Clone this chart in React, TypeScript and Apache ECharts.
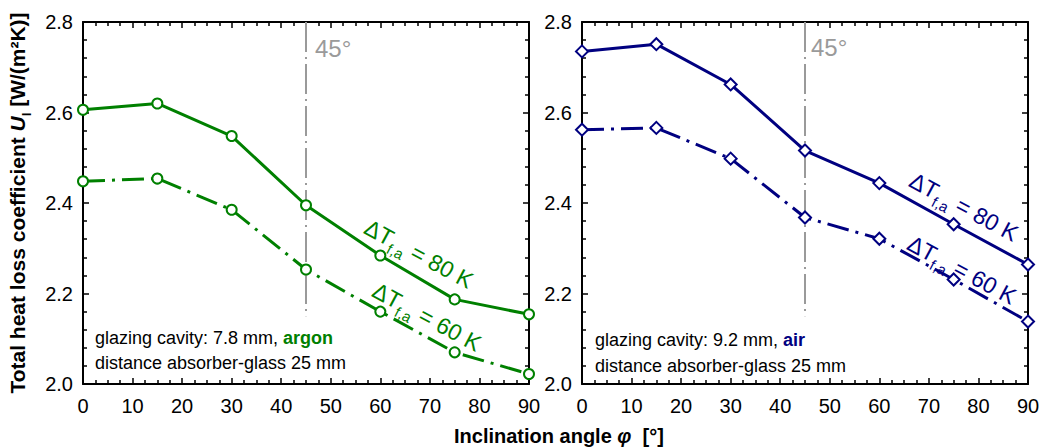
import React, { useEffect, useRef } from "react";
import * as echarts from "echarts";

// ---------- data ----------
const angles = [0, 15, 30, 45, 60, 75, 90];
const argon80 = [2.606, 2.62, 2.548, 2.395, 2.284, 2.187, 2.154];
const argon60 = [2.448, 2.454, 2.385, 2.253, 2.16, 2.07, 2.022];
const air80 = [2.735, 2.751, 2.662, 2.516, 2.444, 2.353, 2.264];
const air60 = [2.562, 2.566, 2.498, 2.368, 2.321, 2.231, 2.138];
const refAngle = 45;
const refRange = [2.8, 2.15];
const xTicks = { min: 0, max: 90, interval: 10 };
const yTicks = { min: 2.0, max: 2.8, interval: 0.2 };

const GREEN = "#008000";
const NAVY = "#000080";
const GRAY = "#9a9a9a";
const FONT = "'Liberation Sans', Arial, Helvetica, sans-serif";

const zip = (xs: number[], ys: number[]) => xs.map((x, i) => [x, ys[i]]);

const tickLine = { color: "#000", width: 1.5 };

function xAxes(gridIndex: number) {
  const base = {
    type: "value" as const,
    gridIndex,
    min: xTicks.min,
    max: xTicks.max,
    interval: xTicks.interval,
    axisLine: { show: true, onZero: false, lineStyle: { color: "#000", width: 2 } },
    axisTick: { show: true, inside: true, length: 6, lineStyle: tickLine },
    minorTick: { show: true, splitNumber: 4, length: 4, lineStyle: tickLine },
    splitLine: { show: false },
  };
  return [
    {
      ...base,
      position: "bottom",
      axisLabel: { show: true, color: "#000", fontSize: 20, margin: 12, fontFamily: FONT },
    },
    { ...base, position: "top", axisLabel: { show: false } },
  ];
}

function yAxes(gridIndex: number) {
  const base = {
    type: "value" as const,
    gridIndex,
    min: yTicks.min,
    max: yTicks.max,
    interval: yTicks.interval,
    axisLine: { show: true, onZero: false, lineStyle: { color: "#000", width: 2 } },
    axisTick: { show: true, inside: true, length: 6, lineStyle: tickLine },
    minorTick: { show: true, splitNumber: 5, length: 4, lineStyle: tickLine },
    splitLine: { show: false },
  };
  return [
    {
      ...base,
      position: "left",
      axisLabel: {
        show: true,
        color: "#000",
        fontSize: 20,
        margin: 10,
        fontFamily: FONT,
        formatter: (v: number) => v.toFixed(1),
      },
    },
    { ...base, position: "right", axisLabel: { show: false } },
  ];
}

function dataSeries(
  xi: number,
  yi: number,
  values: number[],
  color: string,
  symbol: string,
  size: number,
  dashed: boolean
) {
  return {
    type: "line",
    xAxisIndex: xi,
    yAxisIndex: yi,
    data: zip(angles, values),
    clip: false,
    z: 3,
    symbol,
    symbolSize: size,
    showSymbol: true,
    lineStyle: { color, width: 3, type: dashed ? [22, 7, 3, 7] : "solid" },
    itemStyle: { color: "#fff", borderColor: color, borderWidth: 2 },
  };
}

function refLine(xi: number, yi: number) {
  return {
    type: "line",
    xAxisIndex: xi,
    yAxisIndex: yi,
    data: refRange.map((v) => [refAngle, v]),
    symbol: "none",
    z: 1,
    lineStyle: { color: GRAY, width: 2, type: [30, 5, 2, 5] },
  };
}

function dtLabel(x: number, y: number, temp: number, color: string) {
  return {
    type: "text",
    x,
    y,
    rotation: -0.49,
    style: {
      text: `{a|ΔT}{s|f,a}{a| = ${temp} K}`,
      fill: color,
      fontFamily: FONT,
      align: "left",
      verticalAlign: "middle",
      textAlign: "left",
      textVerticalAlign: "middle",
      rich: {
        a: { fontSize: 23, fill: color, fontFamily: FONT, padding: [0, 0, 5, 0], verticalAlign: "top" },
        s: { fontSize: 15, fill: color, fontFamily: FONT, verticalAlign: "bottom" },
      },
    },
  };
}

function plainText(x: number, y: number, text: string, size: number, color: string, rich?: any) {
  return {
    type: "text",
    x,
    y,
    style: {
      text,
      fill: color,
      fontSize: size,
      fontFamily: FONT,
      align: "left",
      verticalAlign: "middle",
      textAlign: "left",
      textVerticalAlign: "middle",
      rich,
    },
  };
}

function infoBox(x: number, y1: number, y2: number, gas: string, color: string, cavity: string) {
  return [
    plainText(x, y1, `{n|glazing cavity: ${cavity} mm, }{g|${gas}}`, 18, "#000", {
      n: { fontSize: 18, fill: "#000", fontFamily: FONT },
      g: { fontSize: 18, fill: color, fontWeight: "bold", fontFamily: FONT },
    }),
    plainText(x, y2, "distance absorber-glass 25 mm", 18, "#000"),
  ];
}

export default function App() {
  const ref = useRef<HTMLDivElement>(null);
  useEffect(() => {
    const chart = echarts.init(ref.current!, null, { renderer: "svg" });
    const option: any = {
      animation: false,
      backgroundColor: "#fff",
      textStyle: { fontFamily: FONT },
      grid: [
        { left: 83, top: 22, width: 446, height: 362 },
        { left: 582, top: 22, width: 446, height: 362 },
      ],
      xAxis: [...xAxes(0), ...xAxes(1)],
      yAxis: [...yAxes(0), ...yAxes(1)],
      series: [
        refLine(0, 0),
        refLine(2, 2),
        dataSeries(0, 0, argon80, GREEN, "circle", 10, false),
        dataSeries(0, 0, argon60, GREEN, "circle", 10, true),
        dataSeries(2, 2, air80, NAVY, "diamond", 12, false),
        dataSeries(2, 2, air60, NAVY, "diamond", 12, true),
      ],
      graphic: [
        plainText(315, 48, "45°", 24, GRAY),
        plainText(811, 47, "45°", 24, GRAY),
        dtLabel(365, 228, 80, GREEN),
        dtLabel(373, 291, 60, GREEN),
        dtLabel(910, 181, 80, NAVY),
        dtLabel(908, 244, 60, NAVY),
        ...infoBox(95, 338, 363, "argon", GREEN, "7.8"),
        ...infoBox(595, 340, 366, "air", NAVY, "9.2"),
        {
          type: "text",
          x: 454,
          y: 436,
          style: {
            text: "{b|Inclination angle }{i|φ}{b|  [°]}",
            fill: "#000",
            align: "left",
            verticalAlign: "middle",
            textAlign: "left",
            textVerticalAlign: "middle",
            rich: {
              b: { fontSize: 20, fontWeight: "bold", fontFamily: FONT, fill: "#000" },
              i: { fontSize: 20, fontWeight: "bold", fontStyle: "italic", fontFamily: FONT, fill: "#000" },
            },
          },
        },
        {
          type: "text",
          x: 20,
          y: 203,
          rotation: Math.PI / 2,
          style: {
            text: "{b|Total heat loss coefficient }{i|U}{s|l}{b| [W/(m²K)]}",
            fill: "#000",
            align: "center",
            verticalAlign: "middle",
            textAlign: "center",
            textVerticalAlign: "middle",
            rich: {
              b: { fontSize: 21, fontWeight: "bold", fontFamily: FONT, fill: "#000", padding: [0, 0, 5, 0], verticalAlign: "top" },
              i: { fontSize: 21, fontWeight: "bold", fontStyle: "italic", fontFamily: FONT, fill: "#000", padding: [0, 0, 5, 0], verticalAlign: "top" },
              s: { fontSize: 13, fontWeight: "bold", fontFamily: FONT, fill: "#000", verticalAlign: "bottom" },
            },
          },
        },
      ],
    };
    chart.setOption(option);
    return () => chart.dispose();
  }, []);
  return (
    <div
      ref={ref}
      style={{ position: "fixed", left: 0, top: 0, width: 1043, height: 448, background: "#fff" }}
    />
  );
}
